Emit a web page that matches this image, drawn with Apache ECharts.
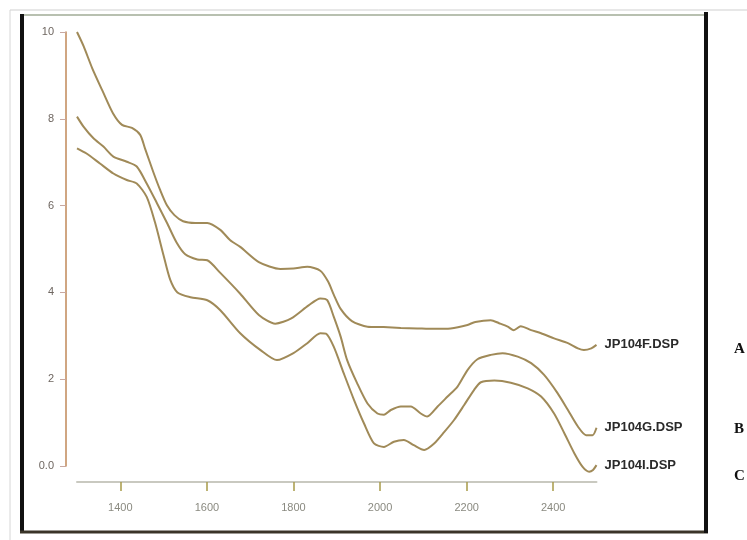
<!DOCTYPE html>
<html>
<head>
<meta charset="utf-8">
<title>Spectra</title>
<script src="https://cdn.jsdelivr.net/npm/echarts@6/dist/echarts.min.js"></script>
<style>
  html, body { margin: 0; padding: 0; background: #ffffff; }
  #chart { width: 747px; height: 540px; }
</style>
</head>
<body>
<div id="chart"></div>
<script>
// Wavelength (nm) ticks and value ticks
const xTicks = [1400, 1600, 1800, 2000, 2200, 2400];
const yTicks = [0, 2, 4, 6, 8, 10];

// Spectrum names and side letters
const names = ['JP104F.DSP', 'JP104G.DSP', 'JP104I.DSP'];
const letters = ['A', 'B', 'C'];

// Spectrum F: [wavelength, value]
const specF = [
  [1300, 10.0], [1315, 9.68], [1335, 9.17], [1360, 8.62], [1383, 8.13], [1404, 7.86],
  [1427, 7.79], [1446, 7.63], [1457, 7.32], [1476, 6.78], [1492, 6.36], [1508, 6.00],
  [1525, 5.78], [1545, 5.64], [1573, 5.60], [1601, 5.60], [1631, 5.44], [1654, 5.20],
  [1677, 5.05], [1720, 4.70], [1770, 4.54], [1800, 4.55], [1832, 4.59], [1862, 4.50],
  [1880, 4.25], [1893, 3.95], [1909, 3.62], [1935, 3.34], [1971, 3.21], [2008, 3.20],
  [2048, 3.18], [2086, 3.17], [2124, 3.16], [2163, 3.17], [2202, 3.25], [2220, 3.32],
  [2256, 3.36], [2275, 3.29], [2295, 3.21], [2309, 3.13], [2325, 3.22], [2349, 3.13],
  [2372, 3.06], [2402, 2.94], [2434, 2.83], [2457, 2.71], [2471, 2.67], [2488, 2.71],
  [2500, 2.79]
];

// Spectrum G
const specG = [
  [1300, 8.05], [1315, 7.82], [1338, 7.55], [1361, 7.36], [1384, 7.13], [1415, 7.01],
  [1438, 6.90], [1461, 6.51], [1485, 6.05], [1508, 5.60], [1530, 5.15], [1550, 4.88],
  [1578, 4.76], [1601, 4.74], [1631, 4.45], [1677, 3.97], [1720, 3.48], [1758, 3.28],
  [1795, 3.40], [1835, 3.70], [1862, 3.86], [1878, 3.82], [1893, 3.44], [1909, 2.98],
  [1924, 2.44], [1947, 1.91], [1971, 1.44], [1994, 1.21], [2009, 1.18], [2025, 1.29],
  [2048, 1.37], [2071, 1.37], [2094, 1.21], [2109, 1.14], [2133, 1.37], [2156, 1.60],
  [2179, 1.83], [2202, 2.21], [2225, 2.46], [2256, 2.56], [2283, 2.60], [2318, 2.52],
  [2349, 2.37], [2379, 2.10], [2410, 1.68], [2434, 1.29], [2457, 0.91], [2476, 0.71],
  [2491, 0.71], [2500, 0.88]
];

// Spectrum I
const specI = [
  [1300, 7.32], [1322, 7.20], [1353, 6.97], [1384, 6.74], [1415, 6.59], [1438, 6.51],
  [1461, 6.20], [1480, 5.62], [1500, 4.85], [1515, 4.30], [1532, 4.00], [1562, 3.89],
  [1601, 3.82], [1631, 3.59], [1677, 3.06], [1724, 2.67], [1762, 2.44], [1800, 2.60],
  [1832, 2.83], [1862, 3.06], [1875, 3.05], [1893, 2.75], [1916, 2.14], [1940, 1.52],
  [1963, 0.98], [1986, 0.52], [2009, 0.44], [2032, 0.56], [2055, 0.60], [2078, 0.48],
  [2102, 0.37], [2125, 0.52], [2148, 0.78], [2171, 1.06], [2194, 1.40], [2217, 1.75],
  [2233, 1.93], [2264, 1.97], [2302, 1.92], [2341, 1.79], [2372, 1.60], [2402, 1.21],
  [2426, 0.75], [2449, 0.29], [2468, -0.02], [2483, -0.13], [2492, -0.09], [2500, 0.02]
];

const spectra = [specF, specG, specI];
const lineColor = '#a08a58';

const chart = echarts.init(document.getElementById('chart'), null, { renderer: 'canvas' });

const series = spectra.map((data, i) => ({
  type: 'line',
  name: names[i],
  data: data,
  smooth: 0.25,
  showSymbol: false,
  clip: false,
  lineStyle: { color: lineColor, width: 2 },
  endLabel: {
    show: true,
    formatter: names[i],
    distance: 8,
    color: '#2a2a2a',
    fontFamily: 'Liberation Sans',
    fontSize: 13,
    fontWeight: 'bold'
  }
}));

const option = {
  animation: false,
  backgroundColor: '#ffffff',
  grid: { left: 77, top: 32, width: 519.5, height: 434, containLabel: false },
  xAxis: {
    type: 'value',
    min: 1300,
    max: 2500,
    offset: 16,
    axisLine: { show: true, onZero: false, lineStyle: { color: '#c9c9c0', width: 2 } },
    axisTick: {
      show: true, length: 9, customValues: xTicks,
      lineStyle: { color: '#a89a48', width: 1.5 }
    },
    axisLabel: {
      customValues: xTicks, margin: 20,
      color: '#8a8a80', fontFamily: 'Liberation Sans Narrow, Liberation Sans', fontSize: 11,
      formatter: v => String(v)
    },
    splitLine: { show: false }
  },
  yAxis: {
    type: 'value',
    min: yTicks[0],
    max: yTicks[yTicks.length - 1],
    interval: 2,
    offset: 11,
    axisLine: { show: true, onZero: false, lineStyle: { color: '#c08858', width: 1.5 } },
    axisTick: { show: true, length: 6, lineStyle: { color: '#c8a8a0', width: 1 } },
    axisLabel: {
      margin: 12,
      color: '#6e6660', fontFamily: 'Liberation Sans Narrow, Liberation Sans', fontSize: 11,
      formatter: v => (v === 0 ? '0.0' : String(v))
    },
    splitLine: { show: false }
  },
  series: series,
  graphic: [
    // outer paper edges
    { type: 'line', shape: { x1: 10, y1: 10, x2: 747, y2: 10 }, style: { stroke: '#cfcfcf', lineWidth: 1 } },
    { type: 'line', shape: { x1: 10, y1: 10, x2: 10, y2: 540 }, style: { stroke: '#d6d6d6', lineWidth: 1 } },
    // frame round the plot
    { type: 'line', shape: { x1: 22, y1: 15, x2: 706, y2: 15 }, style: { stroke: '#b8c0b0', lineWidth: 2 } },
    { type: 'line', shape: { x1: 22, y1: 14, x2: 22, y2: 533 }, style: { stroke: '#111111', lineWidth: 4 } },
    { type: 'line', shape: { x1: 20, y1: 532, x2: 708, y2: 532 }, style: { stroke: '#3a3428', lineWidth: 3 } },
    { type: 'line', shape: { x1: 706, y1: 12, x2: 706, y2: 533 }, style: { stroke: '#111111', lineWidth: 4 } },
    // side letters
    { type: 'text', x: 734, y: 342, style: { text: letters[0], fill: '#111', font: 'bold 15px Liberation Serif' } },
    { type: 'text', x: 734, y: 422, style: { text: letters[1], fill: '#111', font: 'bold 15px Liberation Serif' } },
    { type: 'text', x: 734, y: 469, style: { text: letters[2], fill: '#111', font: 'bold 15px Liberation Serif' } }
  ]
};

chart.setOption(option);
</script>
</body>
</html>
